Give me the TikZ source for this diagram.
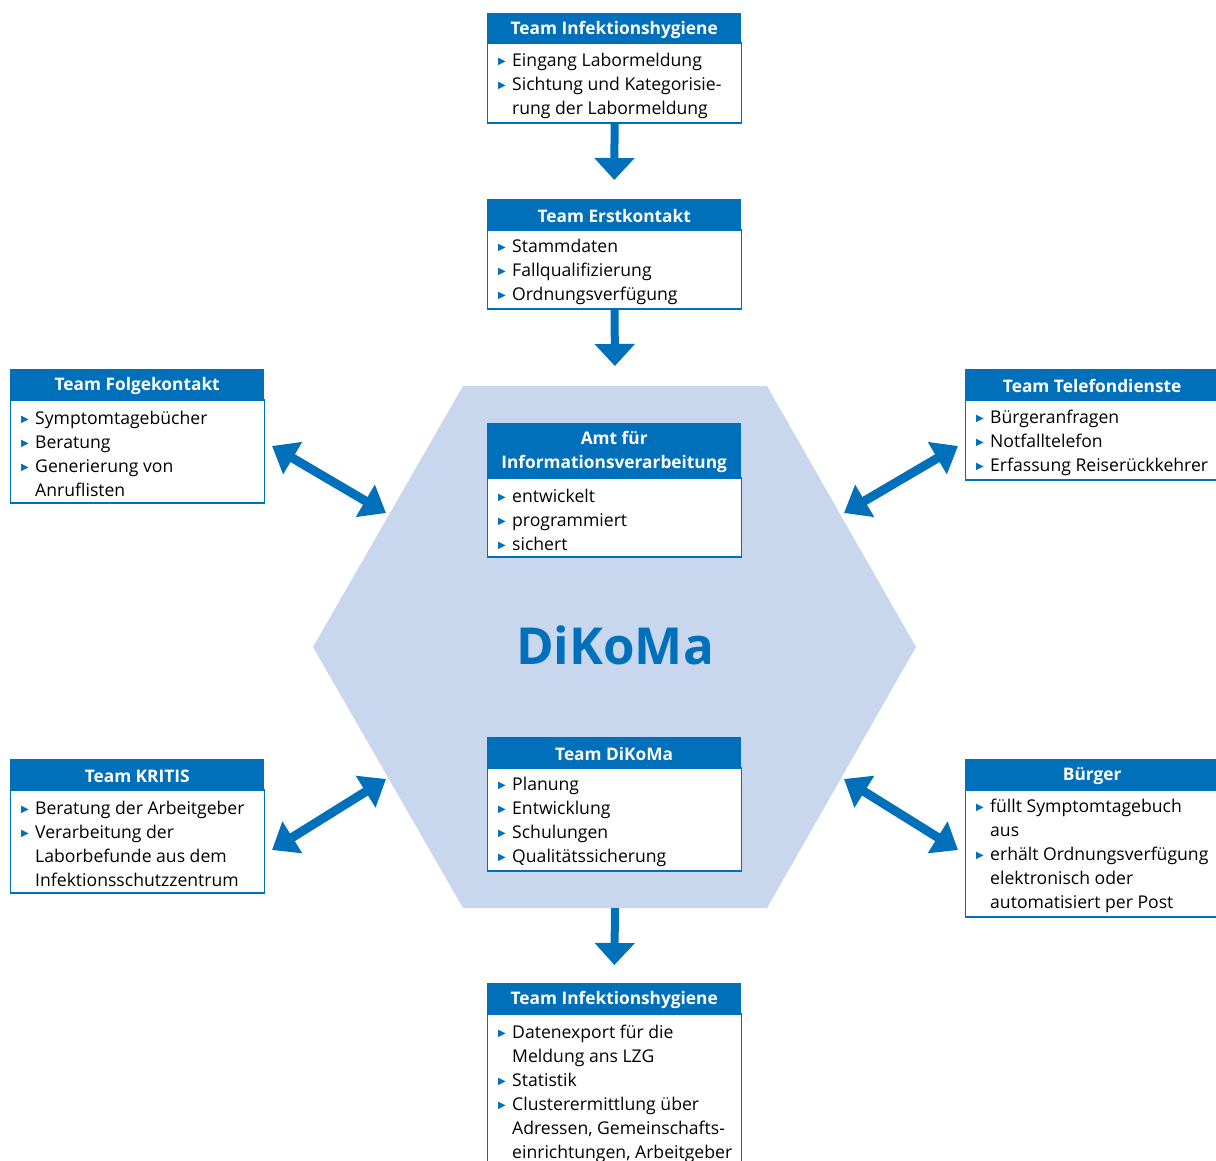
\documentclass[tikz,border=0pt]{standalone}
\usepackage{fontspec}
\setmainfont{Open Sans}
\newfontfamily\dv{DejaVu Sans}
\usetikzlibrary{arrows.meta}
\definecolor{hblue}{HTML}{0070BA}
\definecolor{hexfill}{HTML}{C8D6EE}
\newcommand{\bl}{\makebox[14pt][l]{\raisebox{1.8pt}{\dv\fontsize{10}{10}\selectfont\color{hblue}▶}}}
\newcommand{\ind}{\hspace*{14pt}}
\newcommand{\teambox}[7]{%
  \node[hdr, minimum height=#5pt] (#1h) at (#2,#3) {};
  \node[hdrtxt] (#1ht) at (#1h.center) {#4};
  \node[bodybox, minimum height=#6pt] (#1b) at (#1h.south west) {};
  \node[bodytxt] (#1t) at (#1b.west) {#7};
}
\begin{document}
\begin{tikzpicture}[x=1pt,y=-1pt,
  hdr/.style={fill=hblue, minimum width=254pt, inner sep=0pt, anchor=north west},
  hdrtxt/.style={text=white, font=\bfseries\fontsize{17.3}{24}\selectfont, inner sep=0pt, align=center, yshift=-2pt},
  bodybox/.style={draw=hblue, line width=1.2pt, fill=white, minimum width=254pt, inner sep=0pt, anchor=north west},
  bodytxt/.style={font=\fontsize{17.6}{24}\selectfont, align=left, anchor=west, inner sep=0pt, xshift=11pt, yshift=-2.5pt},
  arr/.style={hblue, line width=8pt, -{Triangle[width=39pt,length=22pt]}},
  darr/.style={hblue, line width=9pt, {Triangle[width=36pt,length=24pt]}-{Triangle[width=36pt,length=24pt]}}]
\useasboundingbox (0,0) rectangle (1216,1160);
\begin{scope}
\clip (0,0) rectangle (1216,1160);
% hexagon
\fill[hexfill] (463,386) -- (767,386) -- (916,647) -- (767,908) -- (463,908) -- (313,647) -- cycle;
\coordinate (hexN) at (615,386);
\coordinate (hexS) at (615,908);
\node[text=hblue, font=\bfseries\fontsize{51}{60}\selectfont, inner sep=0pt] (dikoma) at (615,645) {DiKoMa};

\teambox{ihA}{487}{13}{Team Infektionshygiene}{29}{80}{\bl Eingang Labormeldung\\ \bl Sichtung und Kategorisie-\\ \ind rung der Labormeldung}
\teambox{ek}{487}{199}{Team Erstkontakt}{30}{79}{\bl Stammdaten\\ \bl Fallqualifizierung\\ \bl Ordnungsverfügung}
\teambox{fk}{10}{369}{Team Folgekontakt}{30}{103}{\bl Symptomtagebücher\\ \bl Beratung\\ \bl Generierung von\\ \ind Anruflisten}
\teambox{tel}{965}{369}{Team Telefondienste}{30}{80}{\bl Bürgeranfragen\\ \bl Notfalltelefon\\ \bl Erfassung Reiserückkehrer}
\teambox{amt}{487}{423}{Amt für\\Informationsverarbeitung}{54}{79}{\bl entwickelt\\ \bl programmiert\\ \bl sichert}
\teambox{dk}{487}{737}{Team DiKoMa}{30}{103}{\bl Planung\\ \bl Entwicklung\\ \bl Schulungen\\ \bl Qualitätssicherung}
\teambox{kr}{10}{759}{Team KRITIS}{30}{103}{\bl Beratung der Arbeitgeber\\ \bl Verarbeitung der\\ \ind Laborbefunde aus dem\\ \ind Infektionsschutzzentrum}
\teambox{bu}{965}{759}{Bürger}{30}{127}{\bl füllt Symptomtagebuch\\ \ind aus\\ \bl erhält Ordnungsverfügung\\ \ind elektronisch oder\\ \ind automatisiert per Post}
\teambox{ihB}{487}{983}{Team Infektionshygiene}{30}{155}{\bl Datenexport für die\\ \ind Meldung ans LZG\\ \bl Statistik\\ \bl Clusterermittlung über\\ \ind Adressen, Gemeinschafts-\\ \ind einrichtungen, Arbeitgeber}

% vertical arrows
\draw[arr, shorten >=19pt] (ihAb.south) -- (ekh.north);
\draw[arr, shorten >=20pt] (ekb.south) -- (hexN);
\draw[arr, shorten >=18pt] (hexS) -- (ihBh.north);

% double arrows
\coordinate (ul1) at (272,446); \coordinate (ul2) at (386,513);
\coordinate (ur1) at (958,446); \coordinate (ur2) at (844,513);
\coordinate (ll1) at (272,850); \coordinate (ll2) at (386,779);
\coordinate (lr1) at (958,850); \coordinate (lr2) at (844,779);
\draw[darr] (ul1) -- (ul2);
\draw[darr] (ur1) -- (ur2);
\draw[darr] (ll1) -- (ll2);
\draw[darr] (lr1) -- (lr2);
\end{scope}
\end{tikzpicture}
\end{document}
